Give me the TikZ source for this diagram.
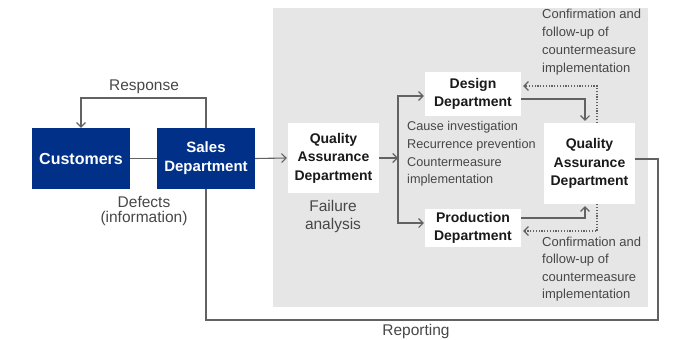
\documentclass[tikz,border=0pt]{standalone}
\usepackage{fontspec}
\setmainfont{Liberation Sans}
\usetikzlibrary{arrows.meta,positioning}
\definecolor{navy}{HTML}{003087}
\definecolor{bggray}{HTML}{E6E6E6}
\definecolor{linegray}{HTML}{626262}
\definecolor{txtgray}{HTML}{474747}
\definecolor{boxtxt}{HTML}{1A1A1A}
\tikzset{
  bluebox/.style={fill=navy,text=white,font=\fontsize{15}{19}\selectfont\bfseries,align=center,inner sep=0pt},
  whitebox/.style={fill=white,text=boxtxt,font=\fontsize{14}{18.5}\selectfont\bfseries,align=center,inner sep=0pt},
  outerlbl/.style={text=txtgray,font=\fontsize{15.5}{15.5}\selectfont,align=center,inner sep=0pt},
  innerlbl/.style={text=txtgray,font=\fontsize{12.7}{17.7}\selectfont,align=left,inner sep=0pt,anchor=west},
  conn/.style={draw=linegray,line width=1.1pt},
  arr/.style={conn,-{Straight Barb[length=4.5pt,width=9pt]}},
  dotarr/.style={draw=linegray,line width=1.1pt,dash pattern=on 1.2pt off 1.6pt,-{Straight Barb[length=4.5pt,width=9pt]}}
}
\begin{document}
\begin{tikzpicture}[x=1pt,y=-1pt]
\useasboundingbox (0,0) rectangle (675,340);
\fill[bggray] (273,8) rectangle (648,307);

\node[bluebox,font=\fontsize{16}{19}\selectfont\bfseries,minimum width=98pt,minimum height=61pt] (cust) at (81,158.5) {Customers};
\node[bluebox,minimum width=98pt,minimum height=61pt] (sales) at (206,158.5) {Sales\\Department};
\node[whitebox,minimum width=91pt,minimum height=70pt] (qa1) at (333.5,158) {Quality\\Assurance\\Department};
\node[whitebox,minimum width=96pt,minimum height=44pt] (design) at (473,94) {Design\\Department};
\node[whitebox,minimum width=96pt,minimum height=38pt] (prod) at (473,228) {Production\\Department};
\node[whitebox,minimum width=91pt,minimum height=81pt] (qa2) at (589.5,163.5) {Quality\\Assurance\\Department};

\node[outerlbl] (resp) at (144,87) {Response};
\node[outerlbl,font=\fontsize{15.5}{15}\selectfont] (defects) at (144,211) {Defects\\(information)};
\node[outerlbl,font=\fontsize{15.5}{18}\selectfont] (fail) at (333,216) {Failure\\analysis};
\node[outerlbl] (rep) at (416,331) {Reporting};
\node[innerlbl] (cause) at (407,154) {Cause investigation\\Recurrence prevention\\Countermeasure\\implementation};
\node[innerlbl,font=\fontsize{13}{18}\selectfont] (conftop) at (542,42.5) {Confirmation and\\follow-up of\\countermeasure\\implementation};
\node[innerlbl,font=\fontsize{13}{17.5}\selectfont] (confbot) at (542,269) {Confirmation and\\follow-up of\\countermeasure\\implementation};

% connectors
\draw[conn] (cust.east) -- (sales.west);
\coordinate (r1) at (206,98);
\draw[arr] (sales.north) -- (r1) -| (cust.north);
\draw[arr] (sales.east) -- ([xshift=-1pt]qa1.west);
\coordinate (split) at (398,158);
\draw[arr] (qa1.east) -- (split);
\draw[arr] (split) |- ([yshift=-2pt,xshift=-1pt]design.west);
\draw[arr] (split) |- ([yshift=5pt,xshift=-1pt]prod.west);
\draw[arr] ([yshift=-5pt]design.east) -| ([xshift=-4.5pt,yshift=2pt]qa2.north);
\draw[arr] ([yshift=10pt]prod.east) -| ([xshift=-4.5pt,yshift=-2pt]qa2.south);
\draw[dotarr] ([xshift=7.5pt]qa2.north) |- ([yshift=8pt,xshift=2pt]design.east);
\draw[dotarr] ([xshift=7.5pt]qa2.south) |- ([yshift=-3pt,xshift=2pt]prod.east);
\coordinate (rp1) at (658,159);
\coordinate (rp2) at (658,320);
\coordinate (rp3) at (206,320);
\draw[conn] (qa2.east |- rp1) -- (rp1) -- (rp2) -- (rp3) -- (sales.south);
\end{tikzpicture}
\end{document}
